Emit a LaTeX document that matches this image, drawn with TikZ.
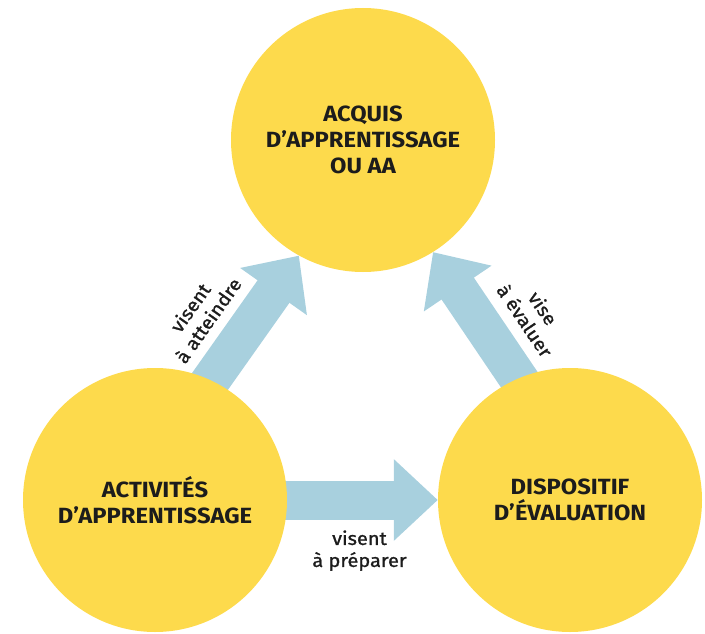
\documentclass[tikz,border=0pt]{standalone}
\usepackage{fontspec}
\setmainfont{Fira Sans}
\newfontfamily\titlefont[FakeStretch=1.08]{Fira Sans}
\newfontfamily\notefont[FakeStretch=1.08, FakeBold=1.2]{Fira Sans}
\usetikzlibrary{arrows.meta}
\definecolor{sunfill}{RGB}{253,218,76}
\definecolor{skyblue}{RGB}{168,208,222}
\definecolor{ink}{RGB}{28,28,28}
\pgfdeclarelayer{back}
\pgfsetlayers{back,main}

\tikzstyle{goal}=[circle, fill=sunfill, minimum size=264pt, inner sep=0pt, align=center, text=ink, font=\titlefont\bfseries\fontsize{22}{26}\selectfont]
\tikzstyle{link}=[draw=skyblue, line width=39pt, -{Triangle[length=44pt, width=79pt]}, shorten <=-20pt]
\tikzstyle{note}=[sloped, align=center, text=ink, inner sep=0pt, font=\notefont\fontsize{18.5}{22}\selectfont]

\begin{document}
\begin{tikzpicture}[x=1pt, y=-1pt]
    \useasboundingbox (0, 0) rectangle (705, 634);
    \node[goal] (acquis) at (363, 140) {ACQUIS\\D’APPRENTISSAGE\\OU AA};
    \node[goal] (activites) at (155, 500) {ACTIVITÉS\\D’APPRENTISSAGE};
    \node[goal] (dispositif) at (570, 500) {DISPOSITIF\\D’ÉVALUATION};
    \begin{pgfonlayer}{back}
    \draw[link] (activites.65) to node[note, pos=0.31, above=10pt] {visent\\à atteindre} (acquis.241);
    \draw[link] (dispositif.113) to node[note, pos=0.29, above=11pt] {vise\\à évaluer} (acquis.302);
    \draw[link] (activites) to node[note, midway, below=11pt, xshift=-3pt] {visent\\à préparer} (dispositif);
    \end{pgfonlayer}
\end{tikzpicture}
\end{document}
